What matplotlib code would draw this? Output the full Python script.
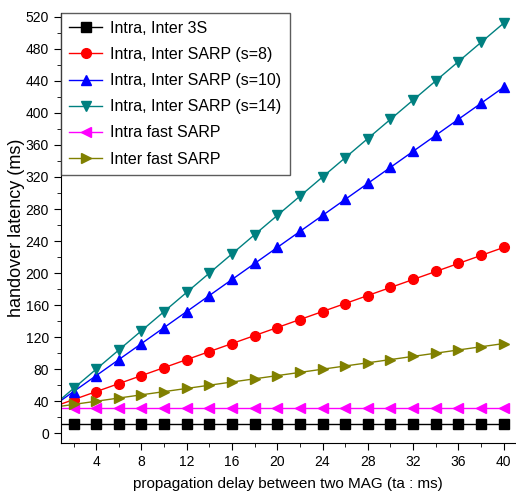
import matplotlib
matplotlib.use("Agg")
import matplotlib.pyplot as plt
from matplotlib.ticker import MultipleLocator

plt.rcParams['font.family'] = ['Liberation Sans', 'DejaVu Sans']

# propagation delay between two MAG (ms); first point (0) has no marker
delay = [0, 2, 4, 6, 8, 10, 12, 14, 16, 18, 20, 22, 24, 26, 28, 30, 32, 34, 36, 38, 40]

inter_3s = [12] * 21
sarp_s8 = [32, 42, 52, 62, 72, 82, 92, 102, 112, 122, 132, 142, 152, 162, 172, 182, 192, 202, 212, 222, 232]
sarp_s10 = [32, 52, 72, 92, 112, 132, 152, 172, 192, 212, 232, 252, 272, 292, 312, 332, 352, 372, 392, 412, 432]
sarp_s14 = [32, 56, 80, 104, 128, 152, 176, 200, 224, 248, 272, 296, 320, 344, 368, 392, 416, 440, 464, 488, 512]
intra_fast = [32] * 21
inter_fast = [32, 36, 40, 44, 48, 52, 56, 60, 64, 68, 72, 76, 80, 84, 88, 92, 96, 100, 104, 108, 112]

series = [
    (inter_3s, 'black', 's', 'Intra, Inter 3S'),
    (sarp_s8, 'red', 'o', 'Intra, Inter SARP (s=8)'),
    (sarp_s10, 'blue', '^', 'Intra, Inter SARP (s=10)'),
    (sarp_s14, '#008080', 'v', 'Intra, Inter SARP (s=14)'),
    (intra_fast, '#ff00ff', '<', 'Intra fast SARP'),
    (inter_fast, '#808000', '>', 'Inter fast SARP'),
]

fig = plt.figure(figsize=(5.16, 4.91), dpi=100)
ax = fig.add_axes([0.118, 0.098, 0.88, 0.876])

for values, color, marker, label in series:
    ax.plot(delay, values, c=color, marker=marker, markersize=7, lw=1,
            markevery=list(range(1, len(delay))), label=label)

ax.set_xlim(0.88, 41)
ax.set_ylim(-12, 525)
ax.xaxis.set_minor_locator(MultipleLocator(2))
ax.yaxis.set_major_locator(MultipleLocator(40))
ax.yaxis.set_minor_locator(MultipleLocator(20))
ax.set_xticks(range(4, 41, 4))
ax.spines['top'].set_visible(False)
ax.spines['right'].set_visible(False)
ax.tick_params(which='major', direction='out', length=5, labelsize=10)
ax.tick_params(which='minor', direction='out', length=3)

ax.set_xlabel("propagation delay between two MAG (ta : ms)", fontsize=11, labelpad=6)
ax.set_ylabel("handover latency (ms)", fontsize=13)
ax.yaxis.set_label_coords(-0.08, 0.5)

leg = ax.legend(loc='upper left', fontsize=11.5, frameon=True, fancybox=False,
                borderaxespad=0, handlelength=2.1, handletextpad=0.5,
                labelspacing=0.7, borderpad=0.5)
leg.get_frame().set_edgecolor('#333333')
leg.get_frame().set_linewidth(1)

fig.savefig("out.png", dpi=100)
